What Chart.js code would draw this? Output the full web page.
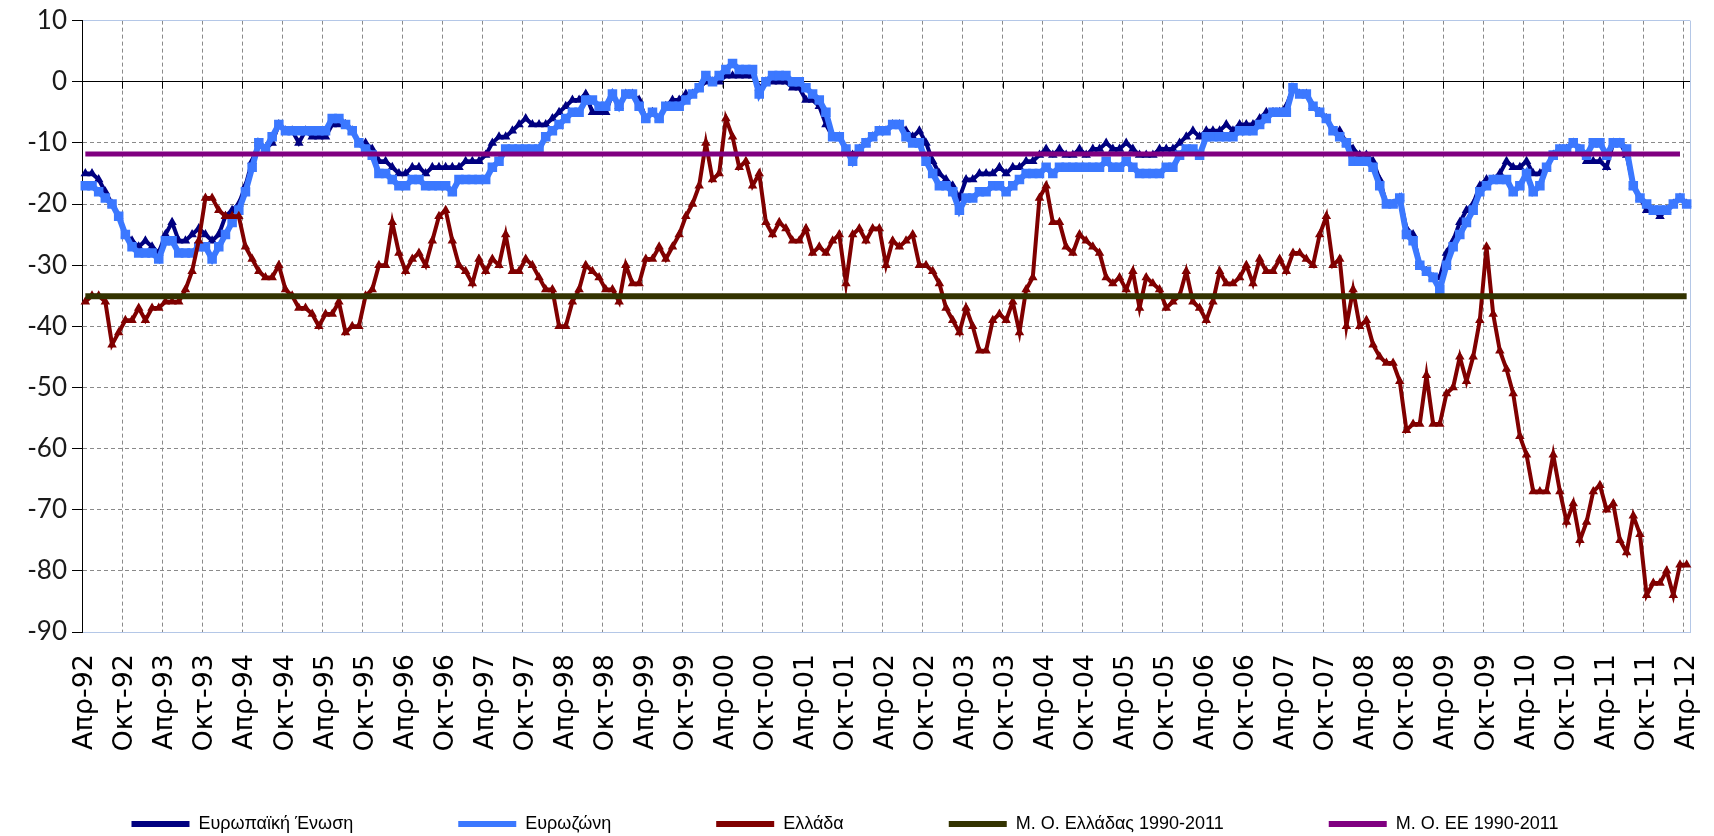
<!DOCTYPE html>
<html>
<head>
<meta charset="utf-8">
<script src="https://cdn.jsdelivr.net/npm/chart.js@4.4.1/dist/chart.umd.min.js"></script>
<style>
  html, body { margin: 0; padding: 0; background: #fff; }
  .chart__container { position: relative; width: 1714px; height: 836px; }
</style>
</head>
<body>
<div class="chart__container"><canvas id="my-chart"></canvas></div>
<script>
// monthly, Apr-92 .. Apr-12
const monthNames = ['Ιαν', 'Φεβ', 'Μαρ', 'Απρ', 'Μαϊ', 'Ιουν', 'Ιουλ', 'Αυγ', 'Σεπ', 'Οκτ', 'Νοε', 'Δεκ'];
const categories = [];
for (let i = 0; i < 241; i++) {
  const m = (3 + i) % 12;
  const yr = (92 + Math.floor((3 + i) / 12)) % 100;
  categories.push(monthNames[m] + '-' + String(yr).padStart(2, '0'));
}

const tickLabels = [
  'Απρ-92', 'Οκτ-92', 'Απρ-93', 'Οκτ-93', 'Απρ-94', 'Οκτ-94', 'Απρ-95', 'Οκτ-95', 'Απρ-96', 'Οκτ-96',
  'Απρ-97', 'Οκτ-97', 'Απρ-98', 'Οκτ-98', 'Απρ-99', 'Οκτ-99', 'Απρ-00', 'Οκτ-00', 'Απρ-01', 'Οκτ-01',
  'Απρ-02', 'Οκτ-02', 'Απρ-03', 'Οκτ-03', 'Απρ-04', 'Οκτ-04', 'Απρ-05', 'Οκτ-05', 'Απρ-06', 'Οκτ-06',
  'Απρ-07', 'Οκτ-07', 'Απρ-08', 'Οκτ-08', 'Απρ-09', 'Οκτ-09', 'Απρ-10', 'Οκτ-10', 'Απρ-11', 'Οκτ-11',
  'Απρ-12'
];

const euValues = [
  -15, -15, -16, -18, -20, -22, -25, -26, -27, -26,
  -27, -28, -25, -23, -26, -26, -25, -24, -25, -26,
  -25, -22, -21, -20, -17, -13, -10, -11, -10, -7,
  -8, -8, -10, -8, -9, -9, -9, -7, -7, -7,
  -8, -10, -10, -11, -13, -13, -14, -15, -15, -14,
  -14, -15, -14, -14, -14,
  -14, -14, -13, -13, -13, -12, -10, -9, -9, -8,
  -7, -6, -7, -7, -7, -6, -5, -4, -3, -3,
  -2, -5, -5, -5, -2, -4, -2, -2, -3, -6,
  -5, -6, -4, -3, -3, -2, -2, -1, 0, 0,
  0, 1, 1, 1, 1, 1, -1, 0, 0, 0,
  0, -1, -1, -3, -3, -4, -7, -9, -9, -11,
  -12, -11, -10, -9, -8, -8, -7, -7, -8, -9,
  -8, -10, -13, -15, -16, -17, -19, -16, -16, -15,
  -15, -15, -14, -15, -14, -14, -13, -13, -12, -11,
  -12, -11, -12, -12, -11, -12, -11, -11, -10, -11,
  -11, -10, -11, -12, -12, -12, -11, -11, -11, -10,
  -9, -8, -9, -8, -8, -8, -7, -8, -7, -7,
  -7, -6, -5,
  -5, -5, -4, -1, -2, -2, -4, -5, -6, -8,
  -8, -10, -11, -12, -12, -13, -16, -20, -20, -19,
  -24, -25, -30, -31, -32, -32, -28, -26, -23, -21,
  -20, -17, -16, -16, -15, -13, -14, -14, -13, -15,
  -15, -14, -12, -11, -11, -10, -11, -13, -13, -13,
  -14, -10, -10, -12, -17, -19, -21, -21, -22, -21,
  -20, -19, -20
];

const ezValues = [
  -17, -17, -18, -19, -20, -22, -25, -27, -28, -28,
  -28, -29, -26, -26, -28, -28, -28, -27, -27, -29,
  -27, -25, -23, -21, -18, -14, -10, -11, -9, -7,
  -8, -8, -8, -8, -8, -8, -8, -6, -6, -7,
  -8, -10, -11, -12, -15, -15, -16, -17, -17, -16,
  -16, -17, -17, -17, -17,
  -18, -16, -16, -16, -16, -16, -14, -13, -11, -11,
  -11, -11, -11, -11, -9, -8, -7, -6, -5, -5,
  -3, -3, -4, -4, -2, -4, -2, -2, -4, -6,
  -5, -6, -4, -4, -4, -3, -2, -1, 1, 0,
  1, 2, 3, 2, 2, 2, -2, 0, 1, 1,
  1, 0, 0, -1, -2, -3, -5, -9, -9, -11,
  -13, -11, -10, -9, -8, -8, -7, -7, -9, -10,
  -10, -13, -15, -17, -17, -18, -21, -19, -19, -18,
  -18, -17, -17, -18, -17, -16, -15, -15, -15, -14,
  -15, -14, -14, -14, -14, -14, -14, -14, -13, -14,
  -14, -13, -14, -15, -15, -15, -15, -14, -14, -12,
  -11, -11, -12, -9, -9, -9, -9, -9, -8, -8,
  -8, -7, -6,
  -5, -5, -5, -1, -2, -2, -4, -5, -6, -8,
  -9, -10, -13, -13, -13, -14, -17, -20, -20, -19,
  -25, -26, -30, -31, -32, -34, -30, -27, -25, -23,
  -21, -18, -17, -16, -16, -16, -18, -17, -15, -18,
  -17, -14, -12, -11, -11, -10, -11, -12, -10, -10,
  -12, -10, -10, -11, -17, -19, -20, -21, -21, -21,
  -20, -19, -20
];

const greeceValues = [
  -36, -35, -35, -36, -43, -41, -39, -39, -37, -39,
  -37, -37, -36, -36, -36, -34, -31, -26, -19, -19,
  -21, -22, -22, -22, -27, -29, -31, -32, -32, -30,
  -34, -35, -37, -37, -38, -40, -38, -38, -36, -41,
  -40, -40, -35, -34, -30, -30, -23, -28, -31, -29,
  -28, -30, -26, -22, -21,
  -26, -30, -31, -33, -29, -31, -29, -30, -25, -31,
  -31, -29, -30, -32, -34, -34, -40, -40, -36, -34,
  -30, -31, -32, -34, -34, -36, -30, -33, -33, -29,
  -29, -27, -29, -27, -25, -22, -20, -17, -10, -16,
  -15, -6, -9, -14, -13, -17, -15, -23, -25, -23,
  -24, -26, -26, -24, -28, -27, -28, -26, -25, -33,
  -25, -24, -26, -24, -24, -30, -26, -27, -26, -25,
  -30, -30, -31, -33, -37, -39, -41, -37, -40, -44,
  -44, -39, -38, -39, -36, -41, -34, -32, -19, -17,
  -23, -23, -27, -28, -25, -26, -27, -28, -32, -33,
  -32, -34, -31, -37, -32, -33, -34, -37, -36, -35,
  -31, -36, -37, -39, -36, -31, -33, -33, -32, -30,
  -33, -29, -31,
  -31, -29, -31, -28, -28, -29, -30, -25, -22, -30,
  -29, -40, -34, -40, -39, -43, -45, -46, -46, -49,
  -57, -56, -56, -48, -56, -56, -51, -50, -45, -49,
  -45, -39, -27, -38, -44, -47, -51, -58, -61, -67,
  -67, -67, -61, -67, -72, -69, -75, -72, -67, -66,
  -70, -69, -75, -77, -71, -74, -84, -82, -82, -80,
  -84, -79, -79
];

// long-run averages 1990-2011
const greeceAvg = -35.1;
const euAvg = -11.8;

const yTicks = [10, 0, -10, -20, -30, -40, -50, -60, -70, -80, -90];

const greeceAvgLine = categories.map(() => greeceAvg);
const euAvgLine = categories.map((c, i) => (i < categories.length - 1 ? euAvg : null));

const FRAME = '#b4c7e7';
const GRID = '#8a8a8a';

// small tick marks hanging from the zero line, every 6 months
const zeroTicks = {
  id: 'zeroTicks',
  beforeDatasetsDraw(chart) {
    const { ctx, scales: { x, y } } = chart;
    const y0 = y.getPixelForValue(0);
    const half = (x.getPixelForValue(1) - x.getPixelForValue(0)) / 2;
    ctx.save();
    ctx.strokeStyle = '#000';
    ctx.lineWidth = 1;
    ctx.beginPath();
    for (let i = 0; i < categories.length; i += 6) {
      const px = Math.round(x.getPixelForValue(i) - half) + 0.5;
      ctx.moveTo(px, y0);
      ctx.lineTo(px, y0 + 7);
    }
    ctx.stroke();
    ctx.restore();
  },
};

// legend padding also spaces the items apart; pull the row back up near the bottom
const legendPlace = {
  id: 'legendPlace',
  afterLayout(chart) {
    const lg = chart.legend;
    lg.top = chart.height - 21 - lg.options.labels.padding;
  },
};

const data = {
  labels: categories,
  datasets: [
    {
      label: 'Ευρωπαϊκή Ένωση',
      data: euValues,
      borderColor: '#000080',
      backgroundColor: '#000080',
      borderWidth: 4,
      pointRadius: 1.5,
      pointStyle: 'triangle',
      order: 5,
    },
    {
      label: 'Ευρωζώνη',
      data: ezValues,
      borderColor: '#3b78ff',
      backgroundColor: '#3b78ff',
      borderWidth: 6,
      pointRadius: 2.5,
      pointStyle: 'rect',
      order: 4,
    },
    {
      label: 'Ελλάδα',
      data: greeceValues,
      borderColor: '#800000',
      backgroundColor: '#800000',
      borderWidth: 4,
      pointRadius: 1.5,
      pointStyle: 'triangle',
      order: 3,
    },
    {
      label: 'Μ. Ο. Ελλάδας 1990-2011',
      data: greeceAvgLine,
      borderColor: '#333300',
      backgroundColor: '#333300',
      borderWidth: 6,
      pointRadius: 0,
      order: 2,
    },
    {
      label: 'Μ. Ο. ΕΕ 1990-2011',
      data: euAvgLine,
      borderColor: '#800080',
      backgroundColor: '#800080',
      borderWidth: 5,
      pointRadius: 0,
      order: 1,
    },
  ],
};

const options = {
  responsive: true,
  maintainAspectRatio: false,
  animation: false,
  layout: { padding: { top: 20, right: 24, bottom: 0, left: 0 } },
  elements: { line: { tension: 0 } },
  plugins: {
    tooltip: { enabled: false },
    legend: {
      position: 'bottom',
      maxHeight: 84,
      labels: {
        font: { family: 'Liberation Sans', size: 18 },
        color: '#000',
        boxWidth: 58,
        boxHeight: 6,
        padding: 105,
        sort: (a, b) => a.datasetIndex - b.datasetIndex,
        generateLabels: (chart) =>
          Chart.defaults.plugins.legend.labels.generateLabels(chart).map((l) => ({
            ...l,
            fillStyle: l.strokeStyle,
            lineWidth: 0,
          })),
      },
    },
  },
  scales: {
    x: {
      type: 'category',
      offset: true,
      afterFit: (s) => {
        s.height = 120;
        s.paddingLeft = 0;
        s.paddingRight = 0;
      },
      grid: {
        offset: true,
        drawTicks: false,
        color: (c) => (c.type === 'tick' ? (c.index % 6 === 0 ? GRID : 'transparent') : FRAME),
      },
      border: {
        color: FRAME,
        width: 1,
        dash: (c) => (c.type === 'tick' ? [4, 3] : []),
      },
      ticks: {
        autoSkip: false,
        minRotation: 90,
        maxRotation: 90,
        padding: 22,
        color: '#000',
        font: { family: 'DejaVu Sans', size: 27 },
        callback: (v, i) => (i % 6 === 0 ? tickLabels[i / 6] : ''),
      },
    },
    y: {
      min: -90,
      max: 10,
      afterFit: (s) => { s.width = 82; },
      afterBuildTicks: (s) => { s.ticks = yTicks.map((v) => ({ value: v })); },
      grid: {
        color: (c) => {
          const v = c.tick ? c.tick.value : null;
          if (v === 0) return '#000';
          if (v === 10 || v === -90) return FRAME;
          return GRID;
        },
        tickColor: '#000',
        tickLength: 10,
        tickBorderDash: [],
      },
      border: {
        color: '#000',
        width: 1,
        dash: (c) => {
          const v = c.tick ? c.tick.value : null;
          return v === 0 || v === 10 || v === -90 ? [] : [4, 3];
        },
      },
      ticks: {
        padding: 5,
        color: '#1a1a1a',
        font: { family: 'Lato', size: 26 },
      },
    },
  },
};

const chartRef = document.getElementById('my-chart');
new Chart(chartRef, {
  type: 'line',
  data,
  options,
  plugins: [zeroTicks, legendPlace],
});
</script>
</body>
</html>
